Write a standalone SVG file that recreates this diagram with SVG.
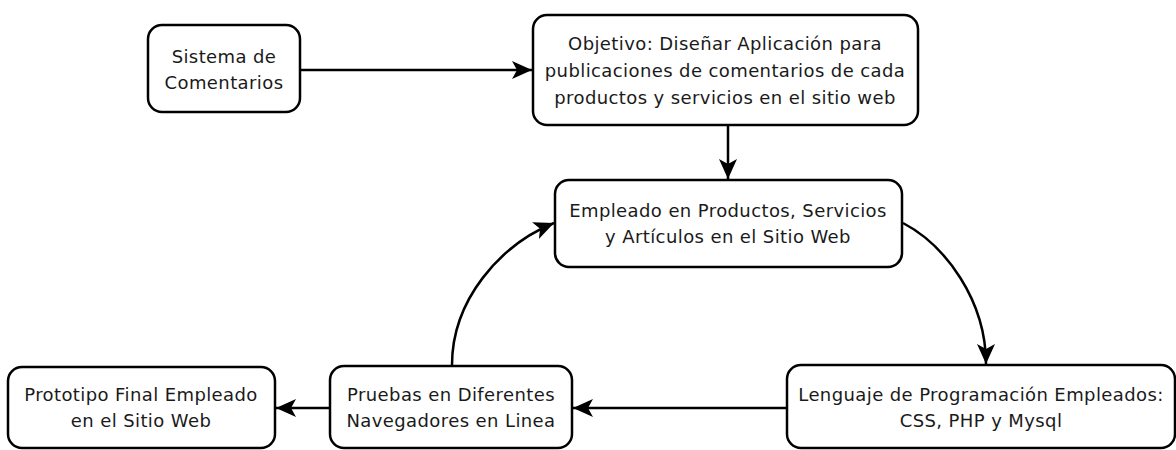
<svg xmlns="http://www.w3.org/2000/svg" width="1176" height="450" viewBox="0 0 1176 450">
<style>
.box{fill:#fff;stroke:#000;stroke-width:2.5}
.lbl{font-family:"DejaVu Sans",sans-serif;font-size:18px;letter-spacing:0.4px;fill:#1a1a1a;text-anchor:middle}
.edge{fill:none;stroke:#000;stroke-width:2.5}
</style>
<defs>
<marker id="arr" markerUnits="userSpaceOnUse" markerWidth="22" markerHeight="20" refX="20" refY="9" orient="auto">
<path d="M0,0 L20,9 L0,18 L5,9 Z" fill="#000"/>
</marker>
</defs>
<rect width="1176" height="450" fill="#fff"/>
<g id="connectors">
<path class="edge" d="M300,70 L532,70" marker-end="url(#arr)"/>
<path class="edge" d="M728,125 L728,179" marker-end="url(#arr)"/>
<path class="edge" d="M903,223 C945,245 986,300 986,364" marker-end="url(#arr)"/>
<path class="edge" d="M787,408 L573,408" marker-end="url(#arr)"/>
<path class="edge" d="M330,408 L276,408" marker-end="url(#arr)"/>
<path class="edge" d="M452,365 C452,300 500,245 554,223" marker-end="url(#arr)"/>
</g>
<g id="n1">
<rect class="box" x="148" y="25" width="152" height="87" rx="14"/>
<text class="lbl" x="224" y="63">Sistema de</text>
<text class="lbl" x="224" y="89">Comentarios</text>
</g>
<g id="n2">
<rect class="box" x="533" y="15" width="385" height="110" rx="14"/>
<text class="lbl" x="725" y="50">Objetivo: Diseñar Aplicación para</text>
<text class="lbl" x="725" y="77">publicaciones de comentarios de cada</text>
<text class="lbl" x="725" y="104">productos y servicios en el sitio web</text>
</g>
<g id="n3">
<rect class="box" x="555" y="180" width="347" height="87" rx="14"/>
<text class="lbl" x="728" y="217">Empleado en Productos, Servicios</text>
<text class="lbl" x="728" y="243">y Artículos en el Sitio Web</text>
</g>
<g id="n4">
<rect class="box" x="787" y="365" width="388" height="83" rx="14"/>
<text class="lbl" x="981" y="401">Lenguaje de Programación Empleados:</text>
<text class="lbl" x="981" y="427">CSS, PHP y Mysql</text>
</g>
<g id="n5">
<rect class="box" x="330" y="366" width="242" height="82" rx="14"/>
<text class="lbl" x="451" y="401">Pruebas en Diferentes</text>
<text class="lbl" x="451" y="427">Navegadores en Linea</text>
</g>
<g id="n6">
<rect class="box" x="8" y="367" width="267" height="81" rx="14"/>
<text class="lbl" x="141" y="401">Prototipo Final Empleado</text>
<text class="lbl" x="141" y="427">en el Sitio Web</text>
</g>
</svg>
